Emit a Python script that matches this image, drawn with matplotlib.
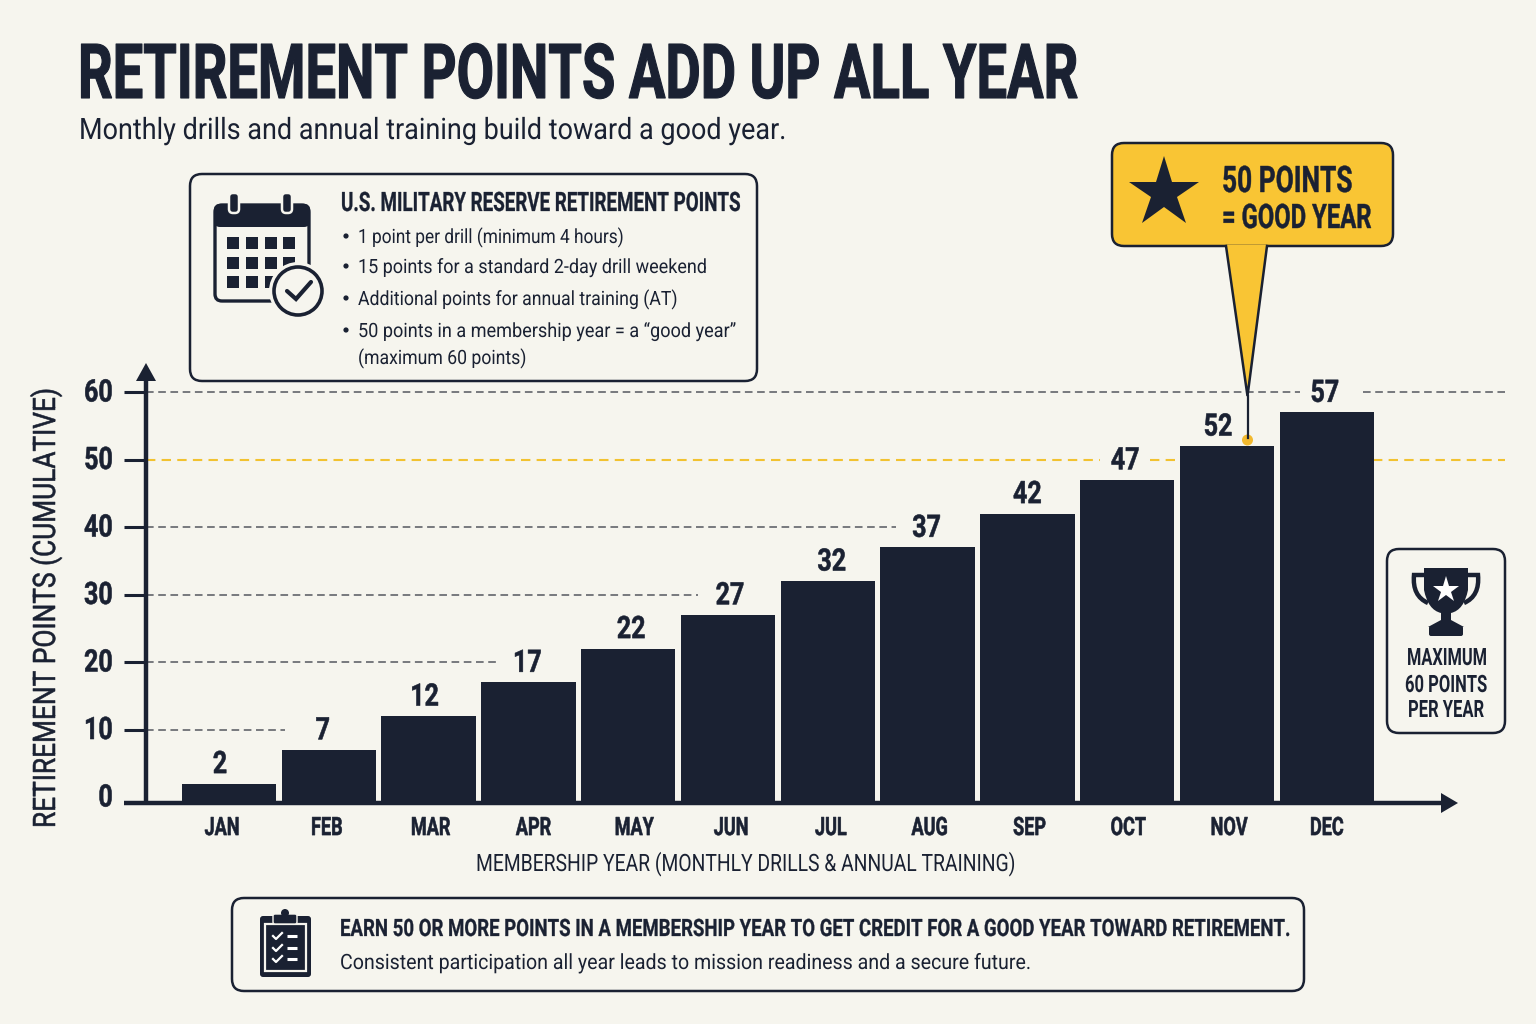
import matplotlib
matplotlib.use('Agg')
import matplotlib.pyplot as plt
from matplotlib.patches import FancyBboxPatch, Polygon, Rectangle, Circle, PathPatch
from matplotlib.patheffects import AbstractPathEffect
from matplotlib.path import Path
from matplotlib.transforms import Affine2D

##chart data
months = ['JAN', 'FEB', 'MAR', 'APR', 'MAY', 'JUN', 'JUL', 'AUG', 'SEP', 'OCT', 'NOV', 'DEC']
points = [2, 7, 12, 17, 22, 27, 32, 37, 42, 47, 52, 57]
y_ticks = [0, 10, 20, 30, 40, 50, 60]
good_year = 50

info_bullets = ['1 point per drill (minimum 4 hours)',
                '15 points for a standard 2-day drill weekend',
                'Additional points for annual training (AT)',
                '50 points in a membership year = a \u201cgood year\u201d',
                '(maximum 60 points)']

##colours and fonts
BG = '#F6F5EE'
NAVY = '#1A2132'
GOLD = '#F9C534'
plt.rcParams['font.family'] = ['Roboto', 'Liberation Sans', 'DejaVu Sans']
CAP = 0.711

W, H = 1536, 1024
fig = plt.figure(figsize=(W / 100, H / 100), dpi=100, facecolor=BG)
renderer = fig.canvas.get_renderer()


class Stretch(AbstractPathEffect):
    # tall condensed lettering: glyphs are stretched upward from the baseline
    def __init__(self, sy, lw=0):
        super().__init__()
        self.sy = sy
        self.lw = lw

    def draw_path(self, rend, gc, tpath, affine, rgbFace=None):
        gc0 = rend.new_gc()
        gc0.copy_properties(gc)
        gc0.set_linewidth(self.lw)
        rend.draw_path(gc0, tpath, Affine2D().scale(1, self.sy) + affine, rgbFace)
        gc0.restore()


def stretch_for(fontsize, cap_px, lw=0):
    return Stretch(cap_px / (CAP * fontsize * 100 / 72), lw)


##chart axes, placed in pixels
left, right, base, top = 146, 1505, 803, 365
zero_y = 797
px_per_point = 6.75
px_per_month = 99.8
first_bar = 229

ax = fig.add_axes([left / W, 1 - base / H, (right - left) / W, (base - top) / H], facecolor='none')
x_range = ((left - first_bar) / px_per_month, (right - first_bar) / px_per_month)
y_floor = (zero_y - base) / px_per_point
ax.set_ylim(y_floor, (zero_y - top) / px_per_point)


def to_x(px):
    return (px - first_bar) / px_per_month


for s in ax.spines.values():
    s.set_visible(False)

# bars run down to the axis line, which sits just under the zero mark
xs = list(range(len(points)))
ax.bar(xs, [p - y_floor for p in points], bottom=y_floor, width=0.945, color=NAVY, zorder=3)

# value labels sit a little off centre on some bars
label_dx = [-9, -6, -4, -1, 3, 2, 4, -1, 0, -2, -9, -2]
num_effect = stretch_for(18, 22, 0.4)
for x, v, dx in zip(xs, points, label_dx):
    ax.annotate(str(v), (x, v), xytext=(dx * 0.72, 7.5), textcoords='offset points',
                ha='center', va='baseline', fontsize=18, fontweight='bold', color=NAVY,
                zorder=4, path_effects=[num_effect])

# dashed guides stop short of the value labels
guide_ends = {10: [(left, 285)], 20: [(left, 496)], 30: [(left, 698)], 40: [(left, 896)],
              60: [(left, 1300), (1363, right)]}
for val, spans in guide_ends.items():
    for a, b in spans:
        ax.plot([to_x(a), to_x(b)], [val, val], color='#55585F', lw=1.1,
                dashes=(5, 3), zorder=1)
for a, b in [(left, 1100), (1150, 1180), (1373, 1505)]:
    ax.plot([to_x(a), to_x(b)], [good_year, good_year], color='#F2C230', lw=1.5,
            dashes=(4.5, 3), zorder=1)
ax.set_xlim(x_range)

ax.set_yticks(y_ticks)
ax.set_xticks(xs)
ax.set_xticklabels(months, fontsize=13, fontweight='bold', color=NAVY)
ax.tick_params(axis='x', length=0, pad=13)
ax.tick_params(axis='y', length=16, width=2.2, color=NAVY, pad=8, labelsize=18, labelcolor=NAVY)
ax.yaxis.get_major_ticks()[0].tick1line.set_visible(False)
for t in ax.get_yticklabels():
    t.set_fontweight('bold')
    t.set_path_effects([num_effect])

# month names are nudged sideways from the bar centres
month_dx = [-7, -2, 2, 5, 6, 3, 3, 2, 2, 1, 2, 0]
for t, dx in zip(ax.get_xticklabels(), month_dx):
    t.set_path_effects([stretch_for(13, 18, 0.4)])
    t.set_transform(t.get_transform() + Affine2D().translate(dx, 0))

##overlay in pixel coordinates for titles, boxes and icons
deco = fig.add_axes([0, 0, 1, 1], facecolor='none', zorder=5)
deco.set_xlim(0, W)
deco.set_ylim(H, 0)
deco.axis('off')


def fit_text(x, y, s, width, cap, weight='normal', lw=0, rotation=0):
    # x, y is the baseline start; font size comes from the wanted width
    t = deco.text(x, y, s, fontsize=20, fontweight=weight, color=NAVY, va='baseline', ha='left',
                  rotation=rotation, rotation_mode='anchor')
    w = renderer.get_text_width_height_descent(s, t.get_fontproperties(), False)[0]
    size = 20 * width / w
    t.set_fontsize(size)
    t.set_path_effects([stretch_for(size, cap, lw)])
    return t


def box(x0, y0, x1, y1, r=12, fc=BG, lw=1.8):
    p = FancyBboxPatch((x0 + r, y0 + r), x1 - x0 - 2 * r, y1 - y0 - 2 * r,
                       boxstyle='round,pad=%d,rounding_size=%d' % (r, r),
                       fc=fc, ec=NAVY, lw=lw)
    deco.add_patch(p)


# axis lines with arrow heads
deco.plot([124, 1445], [base, base], color=NAVY, lw=3.2, solid_capstyle='butt')
deco.plot([left, left], [base, 378], color=NAVY, lw=3.2, solid_capstyle='butt')
deco.add_patch(Polygon([(1441, 793), (1458, 803), (1441, 813)], fc=NAVY, ec='none'))
deco.add_patch(Polygon([(136, 381), (146, 363), (156, 381)], fc=NAVY, ec='none'))

# headings
fit_text(78, 98, 'RETIREMENT POINTS ADD UP ALL YEAR', 998, 54, 'bold', lw=0.8)
fit_text(79, 139, 'Monthly drills and annual training build toward a good year.', 706, 21)
fit_text(55, 828, 'RETIREMENT POINTS (CUMULATIVE)', 440, 22, rotation=90, lw=0.4)
fit_text(476, 871, 'MEMBERSHIP YEAR (MONTHLY DRILLS & ANNUAL TRAINING)', 539, 17)

##info box with calendar icon
box(190, 174, 757, 381)
fit_text(341, 211, 'U.S. MILITARY RESERVE RETIREMENT POINTS', 399, 19, 'bold', lw=0.2)
for line, y, w in zip(info_bullets, [243, 273, 305, 337, 364], [265, 348, 319, 377, 168]):
    if not line.startswith('('):
        deco.add_patch(Circle((346, y - 7), 2.6, fc=NAVY, ec='none'))
    fit_text(358, y, line, w, 14)

box(215, 205, 309, 301, r=7, lw=2.4)
deco.add_patch(FancyBboxPatch((216, 206), 92, 19, boxstyle='round,pad=2,rounding_size=6',
                              fc=NAVY, ec='none'))
for x in (234, 287):
    deco.add_patch(FancyBboxPatch((x - 3, 195), 6, 16, boxstyle='round,pad=2,rounding_size=4',
                                  fc=NAVY, ec=BG, lw=1.8))
for cx in (227, 246, 265, 283):
    for cy in (237, 257, 276):
        deco.add_patch(Rectangle((cx, cy), 12, 12, fc=NAVY, ec='none'))
deco.add_patch(Circle((298, 291), 29, fc=BG, ec='none'))
deco.add_patch(Circle((298, 291), 24, fc=BG, ec=NAVY, lw=2.6))
deco.plot([287, 296, 311], [291, 299, 282], color=NAVY, lw=3.0, solid_capstyle='round',
          solid_joinstyle='miter')

##callout with star
box(1112, 143, 1393, 246, r=12, fc=GOLD)
deco.add_patch(Polygon([(1226, 245), (1267, 245), (1248, 395)], fc=GOLD, ec='none'))
deco.plot([1226, 1247.5, 1267], [246, 396, 246], color=NAVY, lw=1.8, solid_joinstyle='miter')
deco.plot([1247.5, 1247.5], [396, 438], color=NAVY, lw=1.6)
deco.add_patch(Circle((1247.5, 440), 5.5, fc='#F2B92E', ec='none'))
deco.plot([1164], [193], marker='*', ms=53, mfc=NAVY, mec=NAVY, mew=0)
fit_text(1222, 192, '50 POINTS', 130, 26, 'bold', lw=0.3)
fit_text(1222, 228, '= GOOD YEAR', 149, 24, 'bold', lw=0.3)

##maximum box with trophy
box(1387, 549, 1505, 733, r=12)
for sx in (-1, 1):
    handle = Path([(1446 + sx * 22, 575), (1446 + sx * 32, 575), (1446 + sx * 34, 596), (1446 + sx * 18, 603)],
                  [Path.MOVETO, Path.LINETO, Path.CURVE3, Path.CURVE3])
    deco.add_patch(PathPatch(handle, fc='none', ec=NAVY, lw=3.2))
cup = Path([(1424, 568), (1468, 568), (1468, 590), (1464, 610), (1451, 613), (1451, 620), (1464, 627),
            (1428, 627), (1441, 620), (1441, 613), (1428, 610), (1424, 590), (1424, 568)],
           [Path.MOVETO, Path.LINETO, Path.LINETO, Path.CURVE3, Path.CURVE3, Path.LINETO, Path.LINETO,
            Path.LINETO, Path.LINETO, Path.LINETO, Path.CURVE3, Path.CURVE3, Path.LINETO])
deco.add_patch(PathPatch(cup, fc=NAVY, ec='none'))
deco.add_patch(FancyBboxPatch((1430, 627), 32, 8, boxstyle='round,pad=1,rounding_size=2', fc=NAVY, ec='none'))
deco.plot([1446], [590], marker='*', ms=20, mfc='white', mec='white', mew=0)
fit_text(1407, 665, 'MAXIMUM', 80, 17, 'bold')
fit_text(1405, 692, '60 POINTS', 82, 17, 'bold')
fit_text(1408, 717, 'PER YEAR', 76, 17, 'bold')

##bottom note with clipboard
box(232, 898, 1304, 991, r=12)
fit_text(340, 936, 'EARN 50 OR MORE POINTS IN A MEMBERSHIP YEAR TO GET CREDIT FOR A GOOD YEAR TOWARD RETIREMENT.',
         948, 17, 'bold', lw=0.2)
fit_text(340, 969, 'Consistent participation all year leads to mission readiness and a secure future.', 689, 15)

deco.add_patch(FancyBboxPatch((262, 918), 47, 57, boxstyle='round,pad=2,rounding_size=3', fc=NAVY, ec='none'))
deco.add_patch(Rectangle((265, 924), 41, 47, fc=NAVY, ec=BG, lw=1.6))
deco.add_patch(FancyBboxPatch((275, 916), 20, 6, boxstyle='round,pad=2,rounding_size=2', fc=NAVY, ec=BG, lw=1))
deco.add_patch(Circle((285, 913), 4, fc=NAVY, ec='none'))
for y in (936, 948, 959):
    deco.plot([273, 276, 282], [y, y + 3, y - 3], color='white', lw=1.6)
    deco.plot([287, 297], [y, y], color='white', lw=2.2, solid_capstyle='butt')

fig.savefig('out.png', dpi=100, facecolor=BG)
